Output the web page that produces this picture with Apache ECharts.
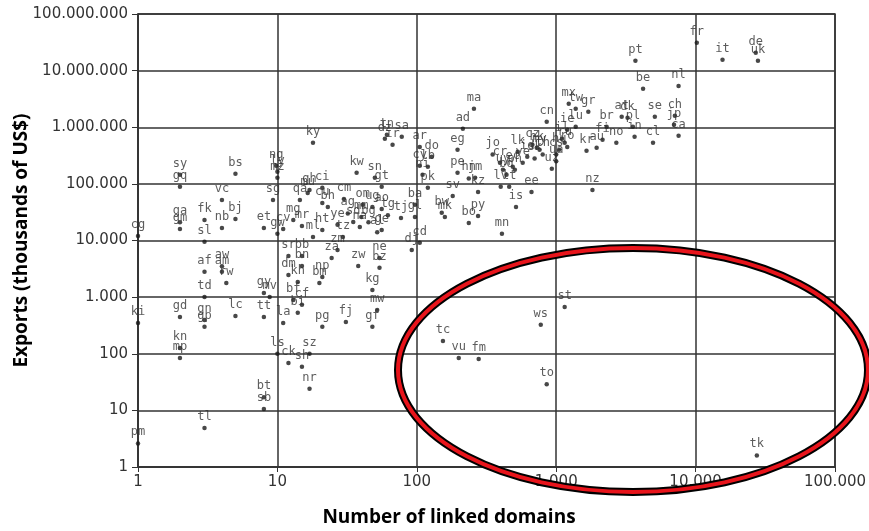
<!DOCTYPE html>
<html lang="en">
<head>
<meta charset="UTF-8">
<title>Exports vs linked domains</title>
<style>
  html, body { margin: 0; padding: 0; background: #fff; }
  #chart { width: 869px; height: 531px; }
</style>
</head>
<body>
<div id="chart"></div>
<script src="https://cdn.jsdelivr.net/npm/echarts@6/dist/echarts.min.js"></script>
<script>
// country codes, number of linked domains, exports (thousands of US$)
var codes = [
  'cg','ki','pm','sy','gq','ga','gm','gd','kn','mp',
  'fk','sl','af','td','gn','gp','tl','vc','nb','bj',
  'bs','aw','am','rw','lc','et','gy','tt','bt','sb',
  'sg','ng','ly','mz','mv','ls','ck','sh','sz','nr',
  'la','sr','bb','bn','dm','kh','np','bm','za','zm',
  'zw','bz','ne','kg','mw','gf','fj','pg','bf','cf',
  'bi','ky','dz','tn','sa','ir','ar','kw','sn','gt',
  'ci','gh','qa','bh','cm','om','ug','ao','ba','tj',
  'gl','ge','al','cd','dj','mg','mr','cv','ma','ad',
  'eg','cn','do','cy','lb','ni','pk','pe','hn','jm',
  'sv','kz','jo','cr','uy','ec','ve','lk','ph','bd',
  'ee','lv','lt','is','bw','mk','py','bo','mn','uz',
  'cz','hk','my','th','id','sk','nz','ie','lu','il',
  'ru','hu','cs','ro','ua','kr','au','mx','gr','tw',
  'at','br','fi','no','dk','pl','in','se','cl','ch',
  'jp','ca','nl','be','pt','fr','it','de','uk','st',
  'ws','tc','vu','fm','to','tk','ml','ht','ye','tz',
  'sd','na','cu','mu','ag','mm','bg','tg','gw'
];
var linkedDomains = [
  1, 1, 1, 2, 2, 2, 2, 2, 2, 2,
  3, 3, 3, 3, 3, 3, 3, 4, 4, 5,
  5, 4, 4, 4.3, 5, 8, 8, 8, 8, 8,
  9.3, 9.8, 10, 10, 8.8, 10, 12, 15, 17, 17,
  11, 12, 15, 15, 12, 14, 21, 20, 24.5, 27,
  38, 54, 54, 48, 52, 48, 31, 21, 13, 15,
  14, 18, 59, 61, 78, 67, 105, 37, 50, 56,
  21, 17, 14.5, 23, 30, 41, 48, 56, 97, 77,
  97, 56, 52, 105, 92, 13, 15, 11, 257, 214,
  196, 855, 128, 105, 120, 110, 120, 196, 236, 262,
  181, 275, 350, 395, 415, 488, 575, 530, 505, 440,
  665, 400, 460, 515, 151, 159, 275, 236, 408, 930,
  675, 725, 760, 800, 620, 700, 1820, 1200, 1380, 1100,
  1150, 1050, 1000, 1200, 1000, 1650, 1950, 1230, 1700, 1380,
  2950, 2300, 2150, 2700, 3250, 3550, 3650, 5100, 4950, 7100,
  7000, 7550, 7550, 4200, 3700, 10200, 15600, 27000, 28000, 1150,
  775, 154, 200, 278, 855, 27500, 18, 21, 27, 29.5,
  35, 39, 21, 16.5, 32, 40, 45, 62, 10
];
var exportsK = [
  12000, 350, 2.6, 145000, 89000, 21000, 16000, 445, 126, 84,
  23000, 9500, 2800, 1010, 395, 300, 4.9, 52000, 16700, 24000,
  151000, 3500, 2800, 1780, 465, 16700, 1180, 445, 17, 10.6,
  52000, 209000, 164000, 128000, 1010, 100, 69, 59, 100, 24,
  350, 5300, 5300, 3550, 2460, 1850, 2270, 1780, 4900, 6800,
  3550, 3300, 4900, 1340, 590, 300, 365, 300, 890, 730,
  530, 530000, 625000, 735000, 680000, 490000, 450000, 157000, 128000, 89000,
  85000, 78000, 52000, 39000, 54000, 43000, 39000, 36000, 43000, 25000,
  26000, 15400, 14000, 9100, 6800, 23000, 18000, 16000, 2130000, 940000,
  400000, 1250000, 300000, 209000, 200000, 145000, 85000, 157000, 124000, 128000,
  61000, 72000, 330000, 236000, 178000, 200000, 236000, 370000, 178000, 145000,
  72000, 89000, 89000, 39000, 31000, 26000, 27000, 20400, 13100, 185000,
  490000, 435000, 400000, 330000, 300000, 280000, 78000, 900000, 1020000, 625000,
  530000, 400000, 330000, 450000, 250000, 385000, 435000, 2590000, 1880000, 2130000,
  1530000, 1020000, 600000, 530000, 1470000, 1020000, 680000, 1530000, 530000, 1600000,
  1110000, 705000, 5370000, 4780000, 14900000, 31000000, 15500000, 20600000, 14900000, 670,
  325, 168, 84, 81, 29, 1.6, 11500, 15400, 19000, 11500,
  21300, 17400, 46000, 69000, 30000, 26000, 21000, 28000, 13100
];

var points = [];
for (var i = 0; i < codes.length; i++) {
  points.push({ name: codes[i], value: [linkedDomains[i], exportsK[i]] });
}

function dotted(v) {
  return String(Math.round(v)).replace(/\B(?=(\d{3})+(?!\d))/g, '.');
}

var chart = echarts.init(document.getElementById('chart'));
var option = {
  animation: false,
  grid: {
    left: 138,
    right: 34,
    top: 14,
    bottom: 64,
    outerBoundsMode: 'none',
    show: true,
    borderColor: '#333',
    borderWidth: 1.5
  },
  xAxis: {
    type: 'log',
    logBase: 10,
    min: 1,
    max: 100000,
    axisLine: { lineStyle: { color: '#333', width: 1.5 } },
    axisTick: { show: true, length: 5, lineStyle: { color: '#333' } },
    axisLabel: {
      formatter: dotted,
      color: '#333',
      fontFamily: 'DejaVu Sans',
      fontSize: 15,
      margin: 8
    },
    splitLine: { show: true, lineStyle: { color: '#333', width: 1.5 } }
  },
  yAxis: {
    type: 'log',
    logBase: 10,
    min: 1,
    max: 100000000,
    name: 'Exports (thousands of US$)',
    nameLocation: 'middle',
    nameGap: 107,
    nameMoveOverlap: false,
    nameTextStyle: {
      fontFamily: 'Open Sans',
      fontWeight: 'bold',
      fontSize: 19,
      color: '#000'
    },
    axisLine: { lineStyle: { color: '#333', width: 1.5 } },
    axisTick: { show: true, length: 6, lineStyle: { color: '#333' } },
    axisLabel: {
      formatter: dotted,
      color: '#333',
      fontFamily: 'DejaVu Sans',
      fontSize: 15,
      margin: 10
    },
    splitLine: { show: true, lineStyle: { color: '#333', width: 1.5 } }
  },
  series: [{
    type: 'scatter',
    symbol: 'circle',
    symbolSize: 4.5,
    itemStyle: { color: '#1a1a1a' },
    data: points,
    label: {
      show: true,
      position: 'top',
      distance: 3,
      formatter: '{b}',
      color: '#333',
      fontFamily: 'DejaVu Sans Mono',
      fontSize: 12
    }
  }],
  graphic: [
    {
      type: 'text',
      x: 449,
      y: 518,
      style: {
        text: 'Number of linked domains',
        fill: '#000',
        font: 'bold 19px "Open Sans"',
        textAlign: 'center',
        textVerticalAlign: 'middle'
      }
    },
    {
      type: 'ellipse',
      z: 100,
      shape: { cx: 633, cy: 370, rx: 235, ry: 122 },
      style: { fill: 'none', stroke: '#000', lineWidth: 8 }
    },
    {
      type: 'ellipse',
      z: 101,
      shape: { cx: 633, cy: 370, rx: 235, ry: 122 },
      style: { fill: 'none', stroke: '#e8141b', lineWidth: 4 }
    }
  ]
};
chart.setOption(option);
</script>
</body>
</html>
